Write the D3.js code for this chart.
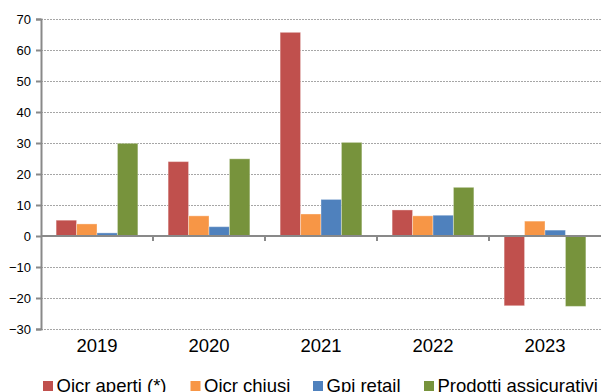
<!DOCTYPE html>
<html>
<head>
<meta charset="utf-8">
<script src="https://cdn.jsdelivr.net/npm/d3@7/dist/d3.min.js"></script>
<style>
  html, body { margin: 0; padding: 0; background: #fff; }
  svg { display: block; font-family: "Liberation Sans", Arial, sans-serif; }
</style>
</head>
<body>
<svg id="chart" width="601" height="392"></svg>
<script>
// Anni sull'asse orizzontale
const years = ["2019", "2020", "2021", "2022", "2023"];
// Serie (nomi come in legenda)
const seriesNames = ["Oicr aperti (*)", "Oicr chiusi", "Gpi retail", "Prodotti assicurativi"];
const seriesColors = ["#C0504D", "#F79646", "#4F81BD", "#77933C"];
// Valori per serie, un valore per anno
const oicrAperti = [5.1, 24.0, 65.7, 8.4, -22.5];
const oicrChiusi = [3.9, 6.5, 7.1, 6.5, 4.8];
const gpiRetail = [1.0, 3.0, 11.8, 6.7, 1.9];
const prodottiAssicurativi = [29.9, 24.9, 30.2, 15.7, -22.7];
// Tacche dell'asse verticale
const yTicks = [-30, -20, -10, 0, 10, 20, 30, 40, 50, 60, 70];

const seriesValues = [oicrAperti, oicrChiusi, gpiRetail, prodottiAssicurativi];

const svg = d3.select("#chart");
const plotLeft = 41, plotRight = 601, plotTop = 19, plotBottom = 329;

const x = d3.scaleBand().domain(years).range([plotLeft, plotRight]).paddingInner(0).paddingOuter(0);
const x1 = d3.scaleBand().domain(d3.range(seriesNames.length))
  .range([0, x.bandwidth()]).paddingInner(0).paddingOuter(0.74);
const y = d3.scaleLinear().domain([-30, 70]).range([plotBottom, plotTop]);

const axisColor = "#898989";

// Griglia orizzontale tratteggiata
svg.append("g").selectAll("line")
  .data(yTicks.filter(d => d !== 0))
  .join("line")
  .attr("x1", plotLeft).attr("x2", plotRight)
  .attr("y1", d => Math.round(y(d)) + 0.5).attr("y2", d => Math.round(y(d)) + 0.5)
  .attr("stroke", "#a6a6a6").attr("stroke-width", 1)
  .attr("stroke-dasharray", "2,1");

// Barre
const groups = svg.append("g").selectAll("g")
  .data(years)
  .join("g")
  .attr("transform", d => `translate(${x(d)},0)`);

groups.selectAll("rect")
  .data((yr, i) => seriesValues.map((vals, s) => ({ s, v: vals[i] })))
  .join("rect")
  .attr("x", d => x1(d.s))
  .attr("width", x1.bandwidth())
  .attr("y", d => y(Math.max(0, d.v)))
  .attr("height", d => Math.abs(y(d.v) - y(0)))
  .attr("fill", d => seriesColors[d.s])
  .attr("stroke", "rgba(255,255,255,0.35)")
  .attr("stroke-width", 1);

// Asse verticale
const yAxis = d3.axisLeft(y).tickValues(yTicks).tickSize(5).tickPadding(5).tickFormat(d3.format("d"));
const gy = svg.append("g").attr("transform", `translate(${plotLeft},0)`).call(yAxis);
gy.select(".domain").attr("stroke", axisColor).attr("stroke-width", 2);
gy.selectAll(".tick line").attr("stroke", axisColor).attr("stroke-width", 2);
gy.selectAll(".tick text").attr("font-size", 13).attr("fill", "#000")
  .attr("font-family", "'Liberation Sans', Arial, sans-serif");

// Linea dello zero con tacche di separazione tra gli anni
const gx = svg.append("g").attr("transform", `translate(0,${y(0)})`);
gx.append("line").attr("x1", plotLeft).attr("x2", plotRight).attr("y1", 0).attr("y2", 0)
  .attr("stroke", axisColor).attr("stroke-width", 2);
gx.selectAll("line.sep")
  .data(years.slice(1))
  .join("line").attr("class", "sep")
  .attr("x1", d => x(d)).attr("x2", d => x(d))
  .attr("y1", 0).attr("y2", 5)
  .attr("stroke", axisColor).attr("stroke-width", 2);

// Etichette degli anni
svg.append("g").selectAll("text")
  .data(years)
  .join("text")
  .attr("x", d => x(d) + x.bandwidth() / 2)
  .attr("y", 352)
  .attr("text-anchor", "middle")
  .attr("font-size", 18.5)
  .attr("fill", "#000")
  .text(d => d);

// Legenda (in fondo, tagliata dal bordo inferiore)
const legendX = [43, 190.5, 313, 424];
const legend = svg.append("g").selectAll("g")
  .data(seriesNames)
  .join("g")
  .attr("transform", (d, i) => `translate(${legendX[i]},0)`);
legend.append("rect").attr("x", 0).attr("y", 381).attr("width", 10).attr("height", 10)
  .attr("fill", (d, i) => seriesColors[i]);
legend.append("text").attr("x", 13.5).attr("y", 391.5)
  .attr("font-size", 18.5).attr("fill", "#000")
  .text(d => d);
</script>
</body>
</html>
